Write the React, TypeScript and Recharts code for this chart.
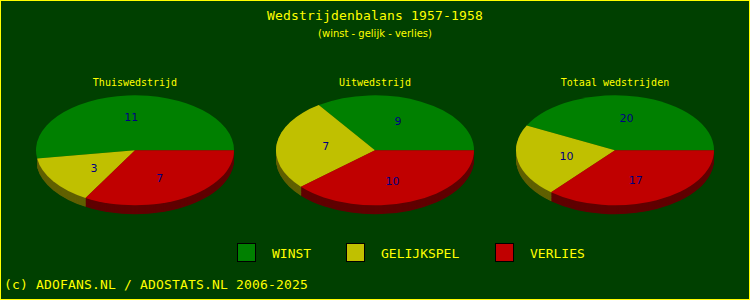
import React from 'react'
import { PieChart, Pie, Cell } from 'recharts'

// --- data ---
const categories = ['WINST', 'GELIJKSPEL', 'VERLIES']
const thuis = [11, 3, 7]
const uit = [9, 7, 10]
const totaal = [20, 10, 17]
const pieTitles = ['Thuiswedstrijd', 'Uitwedstrijd', 'Totaal wedstrijden']
const title = 'Wedstrijdenbalans 1957-1958'
const subtitle = '(winst - gelijk - verlies)'
const footer = '(c) ADOFANS.NL / ADOSTATS.NL 2006-2025'

const topColors = ['#008000', '#c0c000', '#c00000']
const sideColors = ['#004000', '#606000', '#600000']

const BG = '#004000'
const YELLOW = '#ffff00'
const MONO = '"DejaVu Sans Mono", "Liberation Mono", monospace'

// 3d look: draw a round pie and squash it vertically
const RX = 99
const RY = 55
const SQ = RY / RX
const DEPTH = 16 // in unsquashed px
const CY = 105
const centers = [135, 375, 615]
const series = [thuis, uit, totaal]

const RAD = Math.PI / 180

function makeData(values: number[]) {
  return categories.map((name, i) => ({ name, value: values[i] }))
}

function renderLabel(props: any) {
  const { cx, cy, midAngle, outerRadius, value } = props
  const x = cx + 0.5 * outerRadius * Math.cos(-midAngle * RAD)
  const y = cy + 0.6 * outerRadius * Math.sin(-midAngle * RAD)
  return (
    <g transform={`translate(${x} ${y}) scale(1 ${1 / SQ})`}>
      <text x={0} y={0} textAnchor="middle" dominantBaseline="central"
        fill="#000080" fontSize={11} fontFamily='"DejaVu Sans", sans-serif'>
        {value}
      </text>
    </g>
  )
}

const layers = Array.from({ length: DEPTH }, (_, i) => DEPTH - i)

export default function App() {
  const chartH = CY + RX + DEPTH + 5
  return (
    <div style={{ position: 'absolute', left: 0, top: 0, width: 750, height: 300, background: BG, overflow: 'hidden', fontFamily: MONO }}>
      <div style={{ position: 'absolute', left: 0, top: 8, width: 750, textAlign: 'center', color: YELLOW, fontSize: 13, lineHeight: '16px', letterSpacing: 0.17 }}>
        {title}
      </div>
      <div style={{ position: 'absolute', left: 0, top: 27, width: 750, textAlign: 'center', color: YELLOW, fontSize: 10, lineHeight: '14px', fontFamily: '"DejaVu Sans", sans-serif' }}>
        {subtitle}
      </div>

      {pieTitles.map((t, i) => (
        <div key={t} style={{ position: 'absolute', left: centers[i] - 100, top: 76, width: 200, textAlign: 'center', color: YELLOW, fontSize: 10, lineHeight: '14px' }}>
          {t}
        </div>
      ))}

      <div style={{ position: 'absolute', left: 0, top: 150 - CY * SQ, width: 750, height: chartH, transform: `scaleY(${SQ})`, transformOrigin: '0 0' }}>
        <PieChart width={750} height={chartH} margin={{ top: 0, right: 0, bottom: 0, left: 0 }}>
          {series.map((vals, p) =>
            layers.map((k) => (
              <Pie key={`side-${p}-${k}`} data={makeData(vals)} dataKey="value" cx={centers[p]} cy={CY + k}
                outerRadius={RX} startAngle={0} endAngle={360} stroke="none" isAnimationActive={false}>
                {categories.map((c, i) => <Cell key={c} fill={sideColors[i]} />)}
              </Pie>
            ))
          )}
          {series.map((vals, p) => (
            <Pie key={`top-${p}`} data={makeData(vals)} dataKey="value" cx={centers[p]} cy={CY}
              outerRadius={RX} startAngle={0} endAngle={360} stroke="none" isAnimationActive={false}
              label={renderLabel} labelLine={false}>
              {categories.map((c, i) => <Cell key={c} fill={topColors[i]} />)}
            </Pie>
          ))}
        </PieChart>
      </div>

      {/* legend */}
      {categories.map((c, i) => {
        const sx = [237, 346, 495][i]
        return (
          <React.Fragment key={c}>
            <div style={{ position: 'absolute', left: sx, top: 243, width: 17, height: 17, background: topColors[i], border: '1px solid #000' }} />
            <div style={{ position: 'absolute', left: sx + 35, top: 246, color: YELLOW, fontSize: 13, lineHeight: '16px' }}>{c}</div>
          </React.Fragment>
        )
      })}

      <div style={{ position: 'absolute', left: 4, top: 277, color: YELLOW, fontSize: 13, lineHeight: '16px', whiteSpace: 'pre', letterSpacing: 0.17 }}>
        {footer}
      </div>

      <div style={{ position: 'absolute', left: 0, top: 0, width: 750, height: 300, boxSizing: 'border-box', border: `1px solid ${YELLOW}`, pointerEvents: 'none' }} />
    </div>
  )
}
